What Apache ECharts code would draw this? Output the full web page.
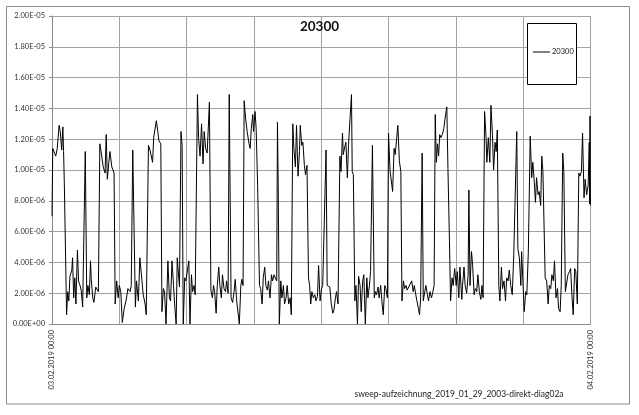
<!DOCTYPE html>
<html>
<head>
<meta charset="utf-8">
<script src="https://cdn.jsdelivr.net/npm/echarts@6/dist/echarts.min.js"></script>
<style>
html,body{margin:0;padding:0;background:#fff;}
#c{width:639px;height:415px;}
</style>
</head>
<body>
<div id="c"></div>
<script>
// ---- data ----
const seriesName = '20300';
const footerText = 'sweep-aufzeichnung_2019_01_29_2003-direkt-diag02a';
const xTickLabels = ['03.02.2019 00:00', '04.02.2019 00:00'];
const valueUnit = 1e-6;
// minutes since 03.02.2019 00:00
const minutes = [
  0,2,5,10,14,19,22,26,29,31,33,36,39,42,45,48,53,55,58,61,64,68,71,75,78,82,86,89,93,96,100,103,105,109,112,117,119,124,128,133,137,142,145,148,152,155,160,162,166,169,173,177,180,184,188,193,198,203,209,212,216,219,223,226,231,
  235,240,244,249,252,258,262,266,269,272,275,279,283,286,291,294,298,301,305,307,310,314,317,321,325,328,332,335,339,341,345,348,351,355,358,362,366,369,373,376,380,383,389,392,396,400,404,407,411,415,418,421,425,429,432,435,439,442,446,449,453,456,460,464,467,471,474,
  479,483,487,490,494,497,501,505,508,511,514,518,522,527,530,533,537,539,543,546,550,555,558,562,565,569,572,576,579,583,587,590,594,597,601,603,605,608,612,615,619,622,626,629,633,637,640,644,647,651,654,658,662,664,668,671,675,678,682,686,689,692,695,699,703,706,710,713,717,
  721,724,727,733,736,740,743,747,751,754,758,761,765,770,773,777,779,783,786,790,793,797,801,803,806,810,813,817,820,824,827,831,834,838,842,845,849,852,857,862,865,868,872,875,879,883,886,890,893,897,900,904,908,911,915,918,922,925,929,933,936,940,943,947,950,954,
  958,962,966,969,973,976,980,983,986,990,993,997,1000,1004,1007,1011,1015,1018,1022,1025,1028,1031,1034,1037,1040,1044,1048,1051,1056,1059,1063,1066,1070,1073,1077,1081,1084,1088,1091,1096,1098,1102,1105,1109,1113,1115,1118,1122,1125,1129,1132,1136,1139,1143,1147,1150,1153,1157,1161,1163,1167,1171,1174,1178,1181,1185,1188,1191,1195,1198,
  1202,1205,1209,1213,1216,1220,1223,1227,1231,1235,1243,1246,1250,1254,1256,1260,1263,1267,1270,1274,1279,1283,1286,1290,1293,1296,1300,1303,1307,1310,1313,1316,1319,1323,1327,1330,1334,1337,1341,1344,1348,1352,1355,1359,1362,1366,1369,1373,1377,1380,1384,1387,1391,1394,1398,1401,1405,1409,1412,1416,1419,1423,1426,1430,1434,1437,1438,1439,1440
];
// values in units of 1E-06
const values = [
  7.0,11.4,11.5,10.9,11.4,12.9,12.5,11.3,12.8,11.2,9.1,9.0,0.6,2.1,1.5,3.1,3.5,4.3,1.7,3.0,1.3,4.8,2.8,2.5,2.2,1.1,1.1,11.2,1.7,2.5,1.9,4.1,2.9,1.7,1.4,2.4,2.5,2.1,11.7,10.9,10.2,9.8,12.3,9.4,10.5,11.2,10.2,10.3,9.8,1.3,2.8,1.7,2.5,2.1,0.1,1.0,1.5,2.3,2.1,2.5,11.3,11.4,1.1,2.8,1.5,
  4.3,4.4,1.9,1.3,0.6,11.6,11.3,11.2,10.5,12.1,12.2,13.2,12.5,11.9,11.7,0.8,2.3,2.1,0.0,1.7,4.1,1.7,1.5,4.1,2.5,1.3,0.0,4.3,3.0,2.4,12.5,11.6,0.0,3.0,2.8,2.8,4.1,0.0,3.2,2.1,2.5,1.9,14.9,12.1,10.9,13.0,10.4,12.5,11.4,11.1,11.2,14.4,2.2,1.7,2.5,2.1,0.7,2.5,3.7,2.5,1.7,3.2,2.3,2.1,2.8,2.0,14.9,
  1.7,1.4,2.1,2.9,1.5,1.4,0.0,2.5,2.9,2.5,14.5,13.3,12.5,11.7,11.4,12.7,13.6,12.5,13.8,12.7,9.0,2.5,2.3,1.3,3.0,3.7,2.5,2.2,2.8,1.7,3.2,2.8,3.2,3.0,2.8,13.1,9.0,0.0,2.8,1.7,2.5,1.3,1.7,2.5,1.3,1.7,0.6,13.0,11.4,10.2,12.9,9.6,11.2,12.9,11.6,11.8,10.3,9.7,10.3,3.0,2.5,1.3,2.1,1.7,1.9,1.5,1.8,3.8,1.5,
  2.3,2.5,2.4,11.3,2.5,2.4,2.4,1.3,0.7,0.9,1.7,2.1,1.3,10.9,9.9,12.4,11.0,11.5,11.8,9.5,11.6,13.3,14.9,9.9,9.7,1.5,2.5,0.0,3.1,2.5,0.8,2.8,3.2,0.0,3.0,1.7,2.5,3.4,11.6,1.7,2.1,1.9,2.4,1.7,2.5,1.3,0.6,2.5,2.3,1.7,12.4,10.0,10.1,8.6,11.4,11.0,12.1,12.9,10.6,9.9,1.5,2.8,2.3,2.5,2.2,2.4,
  2.5,2.8,2.1,2.5,1.9,1.5,1.0,0.6,1.7,11.1,1.5,2.1,2.5,1.9,1.5,2.1,1.7,2.0,2.5,13.6,10.5,11.7,10.9,12.3,12.1,12.3,12.7,13.3,14.1,10.1,5.4,1.5,3.0,2.5,3.6,2.5,3.4,1.7,3.7,1.6,2.5,3.7,2.5,2.0,3.2,8.7,2.5,4.7,3.8,1.9,2.3,2.1,3.2,2.1,1.6,2.5,1.7,13.8,12.1,10.5,12.1,10.5,14.2,12.3,10.0,11.8,11.2,12.6,2.5,1.5,
  3.7,2.3,2.8,1.5,3.0,2.8,3.5,2.5,1.9,4.5,12.5,4.9,4.3,2.5,4.7,2.5,0.8,2.1,1.9,4.7,12.2,9.5,10.5,9.2,7.9,9.5,8.4,8.6,7.7,10.9,9.9,9.9,3.0,2.8,1.3,2.5,2.3,3.2,2.8,4.1,1.7,2.3,1.0,0.8,2.5,11.1,9.9,2.1,2.0,3.2,3.4,3.6,1.7,0.6,3.6,3.4,1.3,9.8,9.6,9.9,12.4,8.2,9.4,8.4,9.0,11.8,7.8,13.5,7.7
];
const yMax = 2.0e-5;
const yStep = 2.0e-6;
const xMax = 1440;
const xStep = 180;

// ---- chart ----
const data = minutes.map((m, i) => [m, values[i] * valueUnit]);
const FONT = 'Lato, "Open Sans", sans-serif';

function expFmt(v) {
  if (Math.abs(v) < 1e-12) return '0.00E+00';
  const s = v.toExponential(2);
  const parts = s.split('e');
  const e = parseInt(parts[1], 10);
  const sign = e < 0 ? '-' : '+';
  const ea = Math.abs(e);
  return parts[0] + 'E' + sign + (ea < 10 ? '0' + ea : '' + ea);
}

const chart = echarts.init(document.getElementById('c'), null, {renderer: 'canvas'});
chart.setOption({
  animation: false,
  backgroundColor: '#fff',
  title: {
    text: seriesName,
    left: 'center',
    top: 15,
    textStyle: {fontFamily: FONT, fontSize: 13.5, fontWeight: 'bold', color: '#111'}
  },
  grid: {left: 52, right: 48.6, top: 16, bottom: 91, containLabel: false},
  legend: {
    data: [seriesName],
    icon: 'rect',
    left: 533,
    top: 48,
    itemWidth: 17,
    itemHeight: 1,
    padding: 0,
    textStyle: {fontFamily: FONT, fontSize: 7.5, color: '#111', padding: [0, 0, 0, -3]},
    z: 10
  },
  xAxis: {
    type: 'value',
    min: 0,
    max: xMax,
    interval: xStep,
    axisLine: {show: true, lineStyle: {color: '#8a8a8a', width: 1}},
    axisTick: {show: false},
    splitLine: {show: true, lineStyle: {color: '#a3a3a3', width: 1}},
    axisLabel: {
      show: true,
      rotate: 90,
      margin: 6,
      showMinLabel: true,
      showMaxLabel: true,
      fontFamily: FONT,
      fontSize: 7.5,
      color: '#333',
      formatter: function (v) {
        if (v === 0) return xTickLabels[0];
        if (v === xMax) return xTickLabels[1];
        return '';
      }
    }
  },
  yAxis: {
    type: 'value',
    min: 0,
    max: yMax,
    interval: yStep,
    axisLine: {show: true, lineStyle: {color: '#8a8a8a', width: 1}},
    axisTick: {show: true, length: 3, lineStyle: {color: '#8a8a8a'}},
    splitLine: {show: true, lineStyle: {color: '#a3a3a3', width: 1}},
    axisLabel: {
      margin: 7,
      fontFamily: FONT,
      fontSize: 7.5,
      color: '#333',
      formatter: expFmt
    }
  },
  graphic: [
    {
      type: 'rect',
      shape: {x: 6.5, y: 6.5, width: 623, height: 397.5},
      style: {fill: 'none', stroke: '#8a8a8a', lineWidth: 1},
      z: 1, silent: true
    },
    {
      type: 'rect',
      shape: {x: 527.5, y: 23.5, width: 49, height: 61},
      style: {fill: '#fff', stroke: '#000', lineWidth: 1},
      z: 5, silent: true
    },
    {
      type: 'text',
      x: 459, y: 394,
      style: {text: footerText, fontFamily: FONT, fontSize: 8.5, fill: '#222', textAlign: 'center', textVerticalAlign: 'middle'},
      z: 5, silent: true
    }
  ],
  series: [{
    name: seriesName,
    type: 'line',
    data: data,
    symbol: 'none',
    showSymbol: false,
    sampling: 'none',
    lineStyle: {color: '#000', width: 1},
    itemStyle: {color: '#000'},
    z: 3
  }]
});
</script>
</body>
</html>
